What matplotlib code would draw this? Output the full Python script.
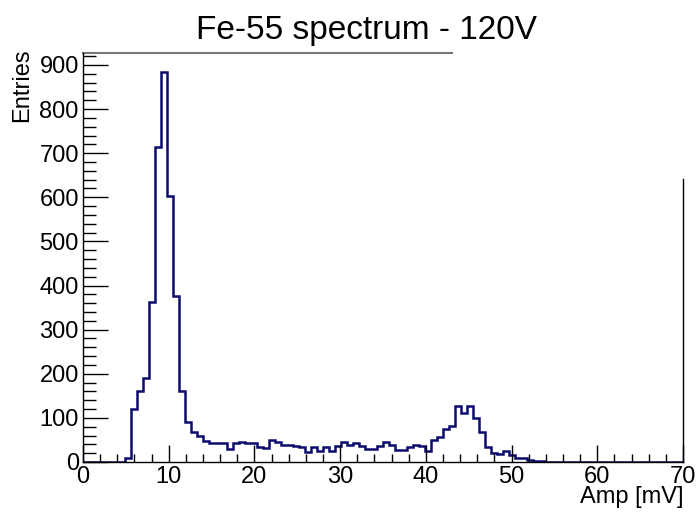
import numpy as np
import matplotlib
matplotlib.use("Agg")
import matplotlib.pyplot as plt
from matplotlib.ticker import MultipleLocator

plt.rcParams['font.family'] = ['Liberation Sans', 'DejaVu Sans']

title = "Fe-55 spectrum - 120V"
xlabel = "Amp [mV]"
ylabel = "Entries"

# histogram: 100 bins from 0 to 70 mV
x_min, x_max, n_bins = 0.0, 70.0, 100
counts = [
    0, 0, 0, 0, 0, 0, 0, 9, 121, 160,
    191, 362, 713, 883, 603, 377, 160, 90, 69, 58,
    48, 42, 42, 42, 29, 43, 46, 44, 42, 33,
    32, 49, 45, 39, 39, 36, 35, 22, 33, 26,
    33, 26, 36, 45, 39, 43, 36, 30, 30, 37,
    45, 38, 28, 28, 33, 39, 36, 26, 49, 56,
    75, 81, 128, 110, 126, 99, 67, 33, 21, 19,
    24, 17, 8, 8, 5, 2, 2, 0, 0, 0,
    0, 0, 0, 0, 0, 0, 0, 0, 0, 0,
    0, 0, 0, 0, 0, 0, 0, 0, 0, 0,
]
x_ticks = [0, 10, 20, 30, 40, 50, 60, 70]
y_ticks = [0, 100, 200, 300, 400, 500, 600, 700, 800, 900]

edges = np.linspace(x_min, x_max, n_bins + 1)

W, H = 697, 512
fig = plt.figure(figsize=(W / 100, H / 100), dpi=100)
L, R, B, T = 83, 683, 462, 53
ax = fig.add_axes([L / W, (H - B) / H, (R - L) / W, (B - T) / H])

ax.stairs(counts, edges, baseline=0, color='#0b0b6e', lw=1.8)

ax.set_xlim(x_min, x_max)
ax.set_ylim(0, 1.05 * max(counts))

ax.set_xticks(x_ticks)
ax.set_yticks(y_ticks)
ax.xaxis.set_minor_locator(MultipleLocator(2))
ax.yaxis.set_minor_locator(MultipleLocator(20))
ax.tick_params(axis='x', which='major', direction='in', length=12, width=1.0,
               labelsize=17, pad=3, top=False)
ax.tick_params(axis='x', which='minor', direction='in', length=6, width=1.0, top=False)
ax.tick_params(axis='y', which='major', direction='in', length=18, width=1.0,
               labelsize=17, pad=3, right=False)
ax.tick_params(axis='y', which='minor', direction='in', length=9, width=1.0, right=False)

for s in ['top', 'right']:
    ax.spines[s].set_visible(False)
for s in ['left', 'bottom']:
    ax.spines[s].set_linewidth(1.0)

# partial frame as in the reference
ax.plot([0, (452 - L) / (R - L)], [1, 1], transform=ax.transAxes, color='#777777',
        lw=1.5, clip_on=False)
ax.plot([1, 1], [0, (B - 179) / (B - T)], transform=ax.transAxes, color='black',
        lw=1.0, clip_on=False)

fig.text(366 / W, 1 - 31 / H, title, ha='center', va='center', fontsize=24)
fig.text(683 / W, 1 - 497 / H, xlabel, ha='right', va='center', fontsize=17)
fig.text(22 / W, 1 - 48 / H, ylabel, ha='center', va='top', rotation=90, fontsize=17)

fig.savefig('out.png', dpi=100)
